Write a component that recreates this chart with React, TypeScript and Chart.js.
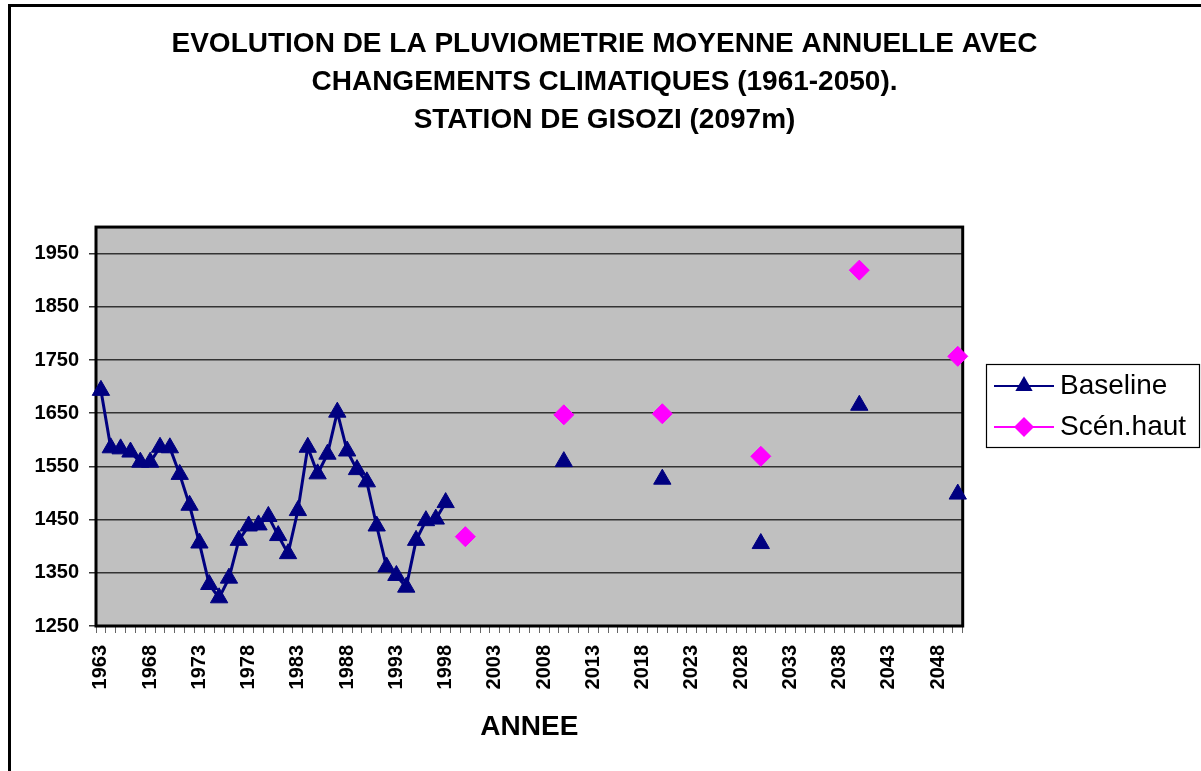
import React, { useEffect, useRef } from 'react';
import { Chart, registerables } from 'chart.js';

Chart.register(...registerables);

const FONT = "'Liberation Sans', Arial, Helvetica, sans-serif";

const TITLE_LINES = [
  'EVOLUTION DE LA PLUVIOMETRIE MOYENNE ANNUELLE AVEC',
  'CHANGEMENTS CLIMATIQUES (1961-2050).',
  'STATION DE GISOZI (2097m)',
];
const X_TITLE = 'ANNEE';

// categories: every year from 1963 to 2050
const FIRST_YEAR = 1963;
const LAST_YEAR = 2050;
const years: string[] = Array.from({ length: LAST_YEAR - FIRST_YEAR + 1 }, (_, i) => String(FIRST_YEAR + i));
const LABEL_EVERY = 5;

// Baseline observed series, consecutive years starting 1963
const baselineHistStart = 1963;
const baselineHist = [
  1693, 1585, 1583, 1577, 1558, 1558, 1586, 1585, 1535, 1477,
  1406, 1328, 1303, 1340, 1411, 1438, 1440, 1456, 1420, 1386,
  1467, 1586, 1536, 1573, 1652, 1579, 1544, 1521, 1438, 1361,
  1345, 1323, 1411, 1448, 1451, 1482,
];
// Baseline projections
const baselineProjYears = [2010, 2020, 2030, 2040, 2050];
const baselineProj = [1559, 1526, 1405, 1665, 1498];
// High scenario
const scenYears = [2000, 2010, 2020, 2030, 2040, 2050];
const scenHaut = [1418, 1647, 1649, 1569, 1919, 1757];

const yTicks = [1250, 1350, 1450, 1550, 1650, 1750, 1850, 1950];
const Y_MIN = 1250;
const Y_MAX = 2000;

const baselineData: (number | null)[] = years.map((y) => {
  const yr = Number(y);
  const hi = yr - baselineHistStart;
  if (hi >= 0 && hi < baselineHist.length) return baselineHist[hi];
  const pi = baselineProjYears.indexOf(yr);
  return pi >= 0 ? baselineProj[pi] : null;
});
const scenData: (number | null)[] = years.map((y) => {
  const si = scenYears.indexOf(Number(y));
  return si >= 0 ? scenHaut[si] : null;
});

function drawMarker(ctx: CanvasRenderingContext2D, style: string, x: number, y: number, r: number, color: string) {
  ctx.beginPath();
  if (style === 'triangle') {
    ctx.moveTo(x, y - r);
    ctx.lineTo(x + r * Math.sin((2 * Math.PI) / 3), y + r / 2);
    ctx.lineTo(x - r * Math.sin((2 * Math.PI) / 3), y + r / 2);
  } else {
    ctx.moveTo(x - r, y);
    ctx.lineTo(x, y - r);
    ctx.lineTo(x + r, y);
    ctx.lineTo(x, y + r);
  }
  ctx.closePath();
  ctx.fillStyle = color;
  ctx.fill();
}

const framePlugin = {
  id: 'frameAndBg',
  beforeDraw(chart: any) {
    const { ctx, chartArea: a, width, height } = chart;
    ctx.save();
    ctx.fillStyle = '#ffffff';
    ctx.fillRect(0, 0, width, height);
    ctx.fillStyle = '#C0C0C0';
    ctx.fillRect(a.left, a.top, a.right - a.left, a.bottom - a.top);
    ctx.strokeStyle = '#000';
    ctx.lineWidth = 3;
    ctx.strokeRect(9.5, 5.5, width + 20, height + 20);
    ctx.restore();
  },
  beforeDatasetsDraw(chart: any) {
    const { ctx, chartArea: a } = chart;
    ctx.save();
    ctx.strokeStyle = '#000';
    ctx.lineWidth = 3;
    ctx.strokeRect(a.left, a.top, a.right - a.left, a.bottom - a.top);
    ctx.restore();
  },
};

const legendPlugin = {
  id: 'boxLegend',
  afterDraw(chart: any) {
    const { ctx } = chart;
    const box = { left: 986, top: 364, right: 1199, bottom: 447 };
    const rows = [386, 427];
    ctx.save();
    ctx.strokeStyle = '#000';
    ctx.lineWidth = 1.2;
    ctx.strokeRect(box.left + 0.5, box.top + 0.5, box.right - box.left, box.bottom - box.top);
    chart.data.datasets.forEach((ds: any, i: number) => {
      const y = rows[i];
      ctx.strokeStyle = ds.borderColor;
      ctx.lineWidth = 2;
      ctx.beginPath();
      ctx.moveTo(994, y);
      ctx.lineTo(1054, y);
      ctx.stroke();
      drawMarker(ctx, ds.pointStyle, 1024, y, 10, ds.backgroundColor);
      ctx.fillStyle = '#000';
      ctx.font = `28px ${FONT}`;
      ctx.textAlign = 'left';
      ctx.textBaseline = 'middle';
      ctx.fillText(ds.label, 1060, y);
    });
    ctx.restore();
  },
};

export default function App() {
  const ref = useRef<HTMLCanvasElement | null>(null);

  useEffect(() => {
    if (!ref.current) return;
    const chart = new Chart(ref.current, {
      type: 'line',
      data: {
        labels: years,
        datasets: [
          {
            label: 'Baseline',
            data: baselineData,
            borderColor: '#000080',
            backgroundColor: '#000080',
            borderWidth: 3,
            pointStyle: 'triangle',
            pointRadius: 10,
            pointBorderWidth: 1,
            pointBackgroundColor: '#000080',
            pointBorderColor: '#000080',
            spanGaps: false,
            tension: 0,
            clip: false,
          } as any,
          {
            label: 'Scén.haut',
            data: scenData,
            borderColor: '#FF00FF',
            backgroundColor: '#FF00FF',
            borderWidth: 2,
            showLine: false,
            pointStyle: 'rectRot',
            pointRadius: 10,
            pointBorderWidth: 1,
            pointBackgroundColor: '#FF00FF',
            pointBorderColor: '#FF00FF',
            spanGaps: false,
            clip: false,
          } as any,
        ],
      },
      options: {
        responsive: false,
        animation: false,
        devicePixelRatio: 1,
        layout: { padding: { left: 8, top: 0, right: 0, bottom: 0 } },
        plugins: {
          legend: { display: false },
          tooltip: { enabled: false },
          title: {
            display: true,
            text: TITLE_LINES,
            color: '#000',
            font: { size: 28, weight: 'bold', family: FONT, lineHeight: 1.34 },
            padding: { top: 26, bottom: 88.5 },
          },
        },
        scales: {
          x: {
            type: 'category',
            offset: true,
            grid: {
              offset: true,
              drawOnChartArea: false,
              drawTicks: true,
              tickLength: 7,
              color: '#666',
              lineWidth: 1,
            },
            border: { display: false },
            ticks: {
              autoSkip: false,
              minRotation: 90,
              maxRotation: 90,
              padding: 12,
              color: '#000',
              font: { size: 20, weight: 'bold', family: FONT },
              callback: (_v: any, i: number) => (i % LABEL_EVERY === 0 ? years[i] : ''),
            },
            title: {
              display: true,
              text: X_TITLE,
              color: '#000',
              font: { size: 28, weight: 'bold', family: FONT },
              padding: { top: 0, bottom: 27 },
            },
            afterFit: (s: any) => {
              s.height = 145;
            },
          },
          y: {
            min: Y_MIN,
            max: Y_MAX,
            afterBuildTicks: (s: any) => {
              s.ticks = yTicks.map((v) => ({ value: v }));
            },
            grid: { color: '#333', lineWidth: 1.5, tickLength: 7, drawTicks: true },
            border: { display: false },
            ticks: {
              padding: 10,
              color: '#000',
              font: { size: 20, weight: 'bold', family: FONT },
              callback: (v: any) => String(v),
            },
            afterFit: (s: any) => {
              s.width = 88;
            },
          },
          yR: {
            position: 'right',
            display: true,
            grid: { display: false, drawTicks: false },
            ticks: { display: false },
            border: { display: false },
            afterFit: (s: any) => {
              s.width = 238.3;
            },
          },
        },
      } as any,
      plugins: [framePlugin, legendPlugin],
    });
    return () => chart.destroy();
  }, []);

  return (
    <canvas
      ref={ref}
      width={1201}
      height={771}
      style={{ position: 'absolute', left: 0, top: 0, display: 'block' }}
    />
  );
}
